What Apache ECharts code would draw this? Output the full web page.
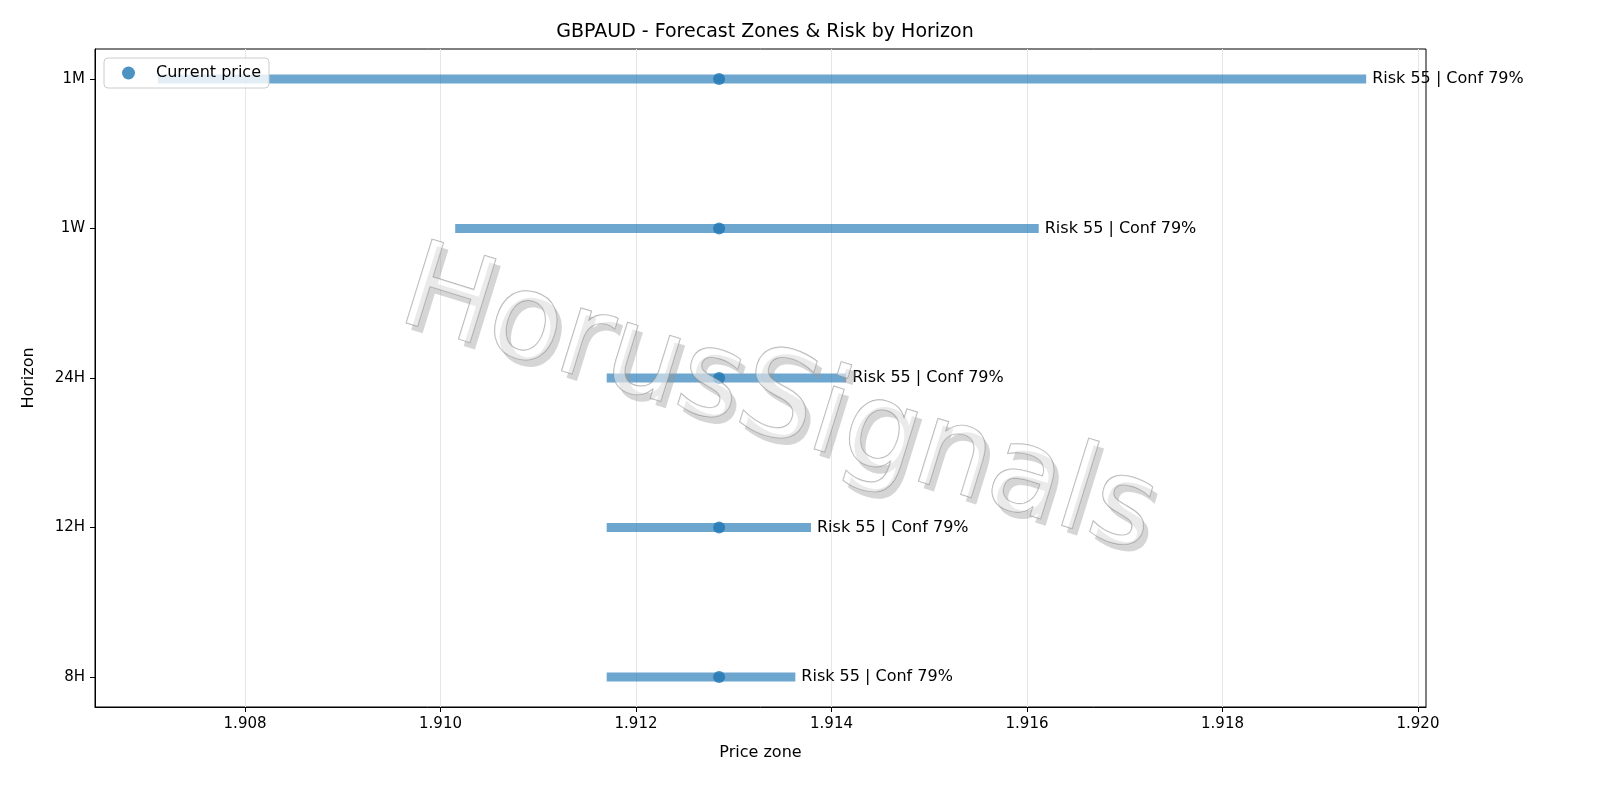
<!DOCTYPE html>
<html><head><meta charset="utf-8">
<script src="https://cdn.jsdelivr.net/npm/echarts@6/dist/echarts.min.js"></script>
<style>html,body{margin:0;padding:0;background:#fff}#c{width:1600px;height:800px}</style>
</head><body><div id="c"></div>
<script>
const horizons = ['8H','12H','24H','1W','1M'];
const lows = [1.91170, 1.91170, 1.91170, 1.91015, 1.90711];
const highs = [1.91363, 1.91379, 1.91415, 1.91612, 1.91947];
const current = [1.91285, 1.91285, 1.91285, 1.91285, 1.91285];
const labels = ['Risk 55 | Conf 79%','Risk 55 | Conf 79%','Risk 55 | Conf 79%','Risk 55 | Conf 79%','Risk 55 | Conf 79%'];
const xTicks = [1.908,1.910,1.912,1.914,1.916,1.918,1.920];

const chart = echarts.init(document.getElementById('c'));
const font = 'DejaVu Sans';
const wm = 'HorusSignals';
chart.setOption({
  animation:false,
  textStyle:{fontFamily:font},
  title:{text:'GBPAUD - Forecast Zones & Risk by Horizon',left:760,textAlign:'center',top:18,textStyle:{fontFamily:font,fontSize:19,fontWeight:'normal',color:'#000'}},
  grid:{left:95,right:174,top:49,bottom:93,outerBoundsMode:'none',containLabel:false,show:true,borderColor:'#000',borderWidth:1,backgroundColor:'transparent'},
  legend:{data:['Current price'],left:104,top:58,orient:'vertical',itemWidth:13,itemHeight:13,icon:'circle',
    backgroundColor:'rgba(255,255,255,0.8)',borderColor:'#ccc',borderWidth:1,borderRadius:4,padding:[7,8,7,18],itemGap:5,
    textStyle:{fontFamily:font,fontSize:16,color:'#000',padding:[0,0,0,16]}},
  xAxis:{type:'value',min:1.906465,max:1.920082,
    name:'Price zone',nameLocation:'middle',nameGap:38,nameTextStyle:{fontFamily:font,fontSize:16,color:'#000'},
    axisLine:{show:true,onZero:false,lineStyle:{color:'#000'}},axisTick:{show:true,customValues:xTicks,length:5,lineStyle:{color:'#000'}},
    axisLabel:{customValues:xTicks,fontFamily:font,fontSize:15,color:'#000',margin:10,formatter:v=>v.toFixed(3)},
    splitLine:{show:true,customValues:xTicks,lineStyle:{color:'#e6e6e6'}}},
  yAxis:{type:'value',min:-0.2,max:4.2,interval:1,
    name:'Horizon',nameLocation:'middle',nameGap:58,nameTextStyle:{fontFamily:font,fontSize:16,color:'#000'},
    axisLine:{show:true,lineStyle:{color:'#000'}},axisTick:{show:true,customValues:[0,1,2,3,4],length:5,lineStyle:{color:'#000'}},
    axisLabel:{customValues:[0,1,2,3,4],fontFamily:font,fontSize:15,color:'#000',margin:10,formatter:v=>horizons[Math.round(v)]},
    splitLine:{show:false}},
  graphic:[
    {type:'text',x:783,y:412,rotation:-0.30,z:99,silent:true,
     style:{text:wm,font:'120px "DejaVu Sans"',align:'center',verticalAlign:'middle',fill:'rgba(150,150,150,0.4)'}},
    {type:'text',x:778,y:405,rotation:-0.30,z:100,silent:true,
     style:{text:wm,font:'120px "DejaVu Sans"',align:'center',verticalAlign:'middle',
       fill:'rgba(255,255,255,0.5)',stroke:'rgba(140,140,140,0.7)',lineWidth:1.2}}
  ],
  series:[
    {type:'custom',name:'zones',z:2,
     data:horizons.map((h,i)=>[i,lows[i],highs[i]]),
     renderItem:(p,api)=>{
       const a=api.coord([api.value(1),api.value(0)]), b=api.coord([api.value(2),api.value(0)]);
       const i=api.value(0);
       return {type:'group',children:[
         {type:'rect',shape:{x:a[0],y:a[1]-4.5,width:b[0]-a[0],height:9},style:{fill:'rgba(31,119,180,0.65)'}},
         {type:'text',x:b[0]+6,y:b[1],style:{text:labels[i],font:'16px "DejaVu Sans"',fill:'#000',verticalAlign:'middle',align:'left'}}
       ]};
     },encode:{x:[1,2],y:0}},
    {type:'scatter',name:'Current price',z:3,symbolSize:12,itemStyle:{color:'#1f77b4'},
     data:horizons.map((h,i)=>[current[i],i])}
  ]
});
</script></body></html>
